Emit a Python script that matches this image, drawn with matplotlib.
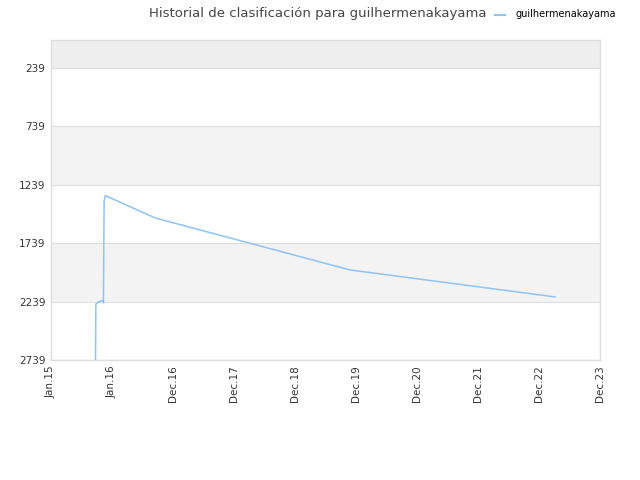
import numpy as np
import pandas as pd
import matplotlib
matplotlib.use("Agg")
import matplotlib.pyplot as plt
import matplotlib.dates as mdates

# --- data ---
dates = ["2015-09-22", "2015-09-24", "2015-10-10", "2015-11-06", "2015-11-08",
         "2015-11-12", "2015-11-20", "2016-09-09", "2019-11-09",
         "2023-03-09"]
ranks = [2760, 2262, 2240, 2228, 2250, 1375, 1332, 1523, 1968, 2199]

tick_labels = ["Jan.15", "Jan.16", "Dec.16", "Dec.17", "Dec.18",
               "Dec.19", "Dec.20", "Dec.21", "Dec.22", "Dec.23"]
y_ticks = [239, 739, 1239, 1739, 2239, 2739]

player = "guilhermenakayama"
line_color = "#90c3f3"

x = pd.to_datetime(dates)
x0 = mdates.date2num(pd.Timestamp("2015-01-01"))
x1 = mdates.date2num(pd.Timestamp("2023-12-01"))

fig = plt.figure(figsize=(6.4, 4.8), dpi=100)
ax = fig.add_axes([51 / 640, 120 / 480, 549 / 640, 320 / 480])

# alternating horizontal bands
ax.axhspan(0, 239, color="#eeeeee", zorder=0, lw=0)
ax.axhspan(739, 1239, color="#f3f3f3", zorder=0, lw=0)
ax.axhspan(1739, 2239, color="#f3f3f3", zorder=0, lw=0)
for yt in y_ticks:
    ax.axhline(yt, color="#dddddd", lw=0.8, zorder=1)

ax.plot(mdates.date2num(x), ranks, color=line_color, lw=1.1, zorder=3)

ax.set_xlim(x0, x1)
ax.set_ylim(2739, 0)
ax.set_yticks(y_ticks)
ax.set_yticklabels([str(v) for v in y_ticks], fontsize=7.5, color="#333333")
ax.set_xticks(np.linspace(x0, x1, len(tick_labels)))
ax.set_xticklabels(tick_labels, rotation=90, fontsize=7.5, color="#333333")
ax.tick_params(length=0, pad=4)

for s in ax.spines.values():
    s.set_color("#dddddd")
    s.set_linewidth(1)

fig.text(318 / 640, 1 - 13 / 480, "Historial de clasificación para " + player,
         ha="center", va="center", fontsize=9.5, color="#444444")
fig.lines.append(plt.Line2D([495 / 640, 505 / 640], [1 - 15 / 480, 1 - 15 / 480],
                            color=line_color, lw=1.5, transform=fig.transFigure))
fig.text(515 / 640, 1 - 14 / 480, player, ha="left", va="center",
         fontsize=7, color="black")

fig.savefig("out.png", dpi=100)
